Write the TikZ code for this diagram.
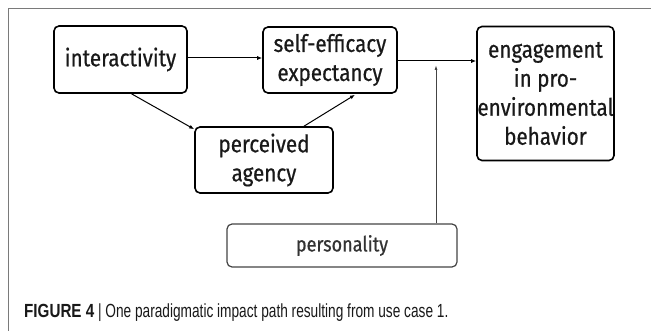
\documentclass[tikz,border=0pt]{standalone}
\usepackage{fontspec}
\usetikzlibrary{arrows.meta,calc}
\newfontfamily\boxfont[FakeStretch=0.86,FakeBold=0.6]{Fira Sans}
\newfontfamily\capfont[FakeStretch=0.72]{Liberation Sans}
\newfontfamily\capboldfont[FakeStretch=0.8]{Liberation Sans Bold}
\definecolor{framegray}{HTML}{7A7A7A}
\definecolor{persgray}{HTML}{444444}
\tikzset{
  concept/.style={draw=black, line width=1.6pt, rounded corners=5pt,
    align=center, inner sep=0pt, font=\boxfont\fontsize{24}{29}\selectfont,
    text=black!90},
  link/.style={draw=black, line width=1pt,
    -{Latex[length=5pt,width=4pt]}},
  moderator/.style={draw=persgray, line width=0.9pt,
    -{Latex[length=5pt,width=3pt]}},
}
\begin{document}
\begin{tikzpicture}[x=1pt,y=-1pt]
\useasboundingbox (0,0) rectangle (651,331);
\fill[white] (0,0) rectangle (651,331);
% frame lines
\draw[framegray, line width=1pt] (651,9) -- (8,9) -- (8,331);

% concept boxes
\node[concept, minimum width=133pt, minimum height=67pt] (int) at (120.5,59.5) {interactivity};
\node[concept, minimum width=134pt, minimum height=66pt] (se) at (330,60) {self-efficacy\\expectancy};
\node[concept, minimum width=137pt, minimum height=134pt] (eng) at (545.5,93.5) {engagement\\in pro-\\environmental\\behavior};
\node[concept, minimum width=138pt, minimum height=66pt] (pa) at (264,160) {perceived\\agency};
\node[concept, draw=persgray, line width=1.2pt, text=black!80,
  font=\boxfont\fontsize{21}{24}\selectfont,
  minimum width=230pt, minimum height=43pt] (pers) at (342,245.5) {personality};

% paths
\draw[link] (int.east |- 0,58) -- (se.west |- 0,58);
\coordinate (join) at (436,61);
\draw[link] (se.east |- join) -- (eng.west |- join);
\draw[link] ($(int.south)+(11,0)$) -- ($(pa.north west)+(0,3)$);
\draw[link] ($(pa.north)+(40,0)$) -- ($(se.south)+(25,1)$);
\draw[moderator] (pers.north -| join) -- ($(join)+(0,4)$);

% caption
\node[anchor=base west, inner sep=0pt, font=\capfont\fontsize{19}{22}\selectfont, text=black!90] (cap) at (24,317)
  {{\capboldfont FIGURE 4} | One paradigmatic impact path resulting from use case 1.};
\end{tikzpicture}
\end{document}
